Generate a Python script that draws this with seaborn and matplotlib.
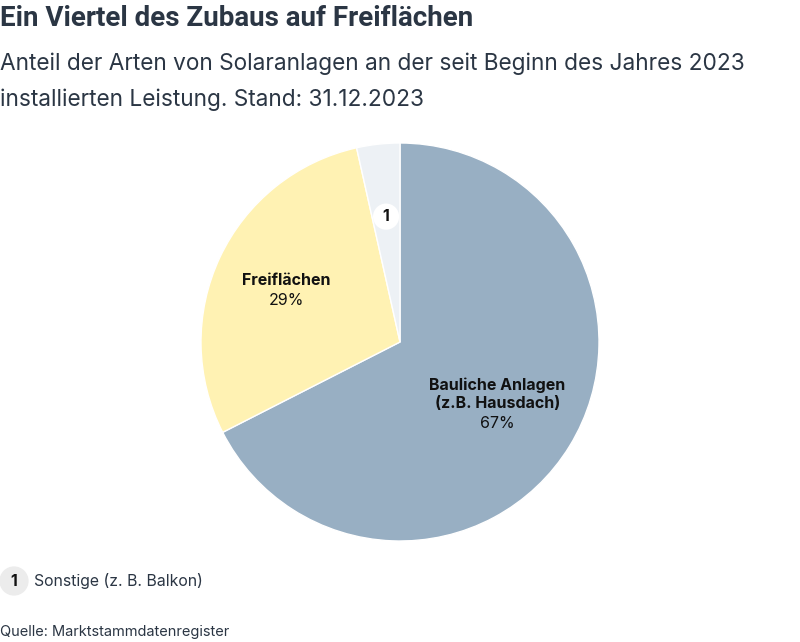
import matplotlib
matplotlib.use("Agg")
import matplotlib.pyplot as plt
import seaborn as sns

# data
categories = ["Bauliche Anlagen\n(z.B. Hausdach)", "Freiflächen", "Sonstige (z. B. Balkon)"]
shares = [67.5, 29.0, 3.5]
share_labels = ["67%", "29%", ""]
colors = ["#98afc3", "#fff2b3", "#edf1f5"]

sns.set_theme(style="white")
plt.rcParams['font.family'] = ['Inter', 'DejaVu Sans']
text_col = "#2b3644"

fig = plt.figure(figsize=(8, 6.42), dpi=100)
ax = fig.add_axes([200 / 800, (642 - 541) / 642, 400 / 800, 398 / 642])

wedges, _ = ax.pie(shares, colors=sns.color_palette(colors), startangle=90,
                   counterclock=False, radius=1,
                   wedgeprops={'edgecolor': 'white', 'linewidth': 1})
ax.set_xlim(-1, 1)
ax.set_ylim(-1, 1)
ax.set_aspect('equal')
ax.axis('off')

ax.text(0.49, -0.264, categories[0], ha='center', va='center', fontsize=11.5,
        fontweight='bold', color='#111111', linespacing=1.25)
ax.text(0.49, -0.412, share_labels[0], ha='center', va='center', fontsize=11.5, color='#111111')
ax.text(-0.57, 0.31, categories[1], ha='center', va='center', fontsize=11.5,
        fontweight='bold', color='#111111')
ax.text(-0.57, 0.21, share_labels[1], ha='center', va='center', fontsize=11.5, color='#111111')
ax.text(-0.07, 0.63, "1", ha='center', va='center', fontsize=11.5, fontweight='bold',
        color='#111111',
        bbox=dict(boxstyle='circle,pad=0.35', fc='white', ec='none'))

fig.text(0.0, 1 - 18 / 642, "Ein Viertel des Zubaus auf Freiflächen", ha='left', va='center',
         fontsize=20, fontweight='bold', color=text_col, family=['Roboto', 'DejaVu Sans'])
fig.text(0.0, 1 - 64 / 642, "Anteil der Arten von Solaranlagen an der seit Beginn des Jahres 2023",
         ha='left', va='center', fontsize=16.3, color=text_col)
fig.text(0.0, 1 - 100 / 642, "installierten Leistung. Stand: 31.12.2023",
         ha='left', va='center', fontsize=16.3, color=text_col)

fig.text(14 / 800, 1 - 581 / 642, "1", ha='center', va='center', fontsize=11.4,
         fontweight='bold', color='#111111',
         bbox=dict(boxstyle='circle,pad=0.45', fc='#ececec', ec='none'))
fig.text(34 / 800, 1 - 581 / 642, categories[2], ha='left', va='center',
         fontsize=11.4, color=text_col)
fig.text(0.0, 1 - 632 / 642, "Quelle: Marktstammdatenregister", ha='left', va='center',
         fontsize=10.5, color=text_col)

fig.savefig("out.png", dpi=100, facecolor='white')
